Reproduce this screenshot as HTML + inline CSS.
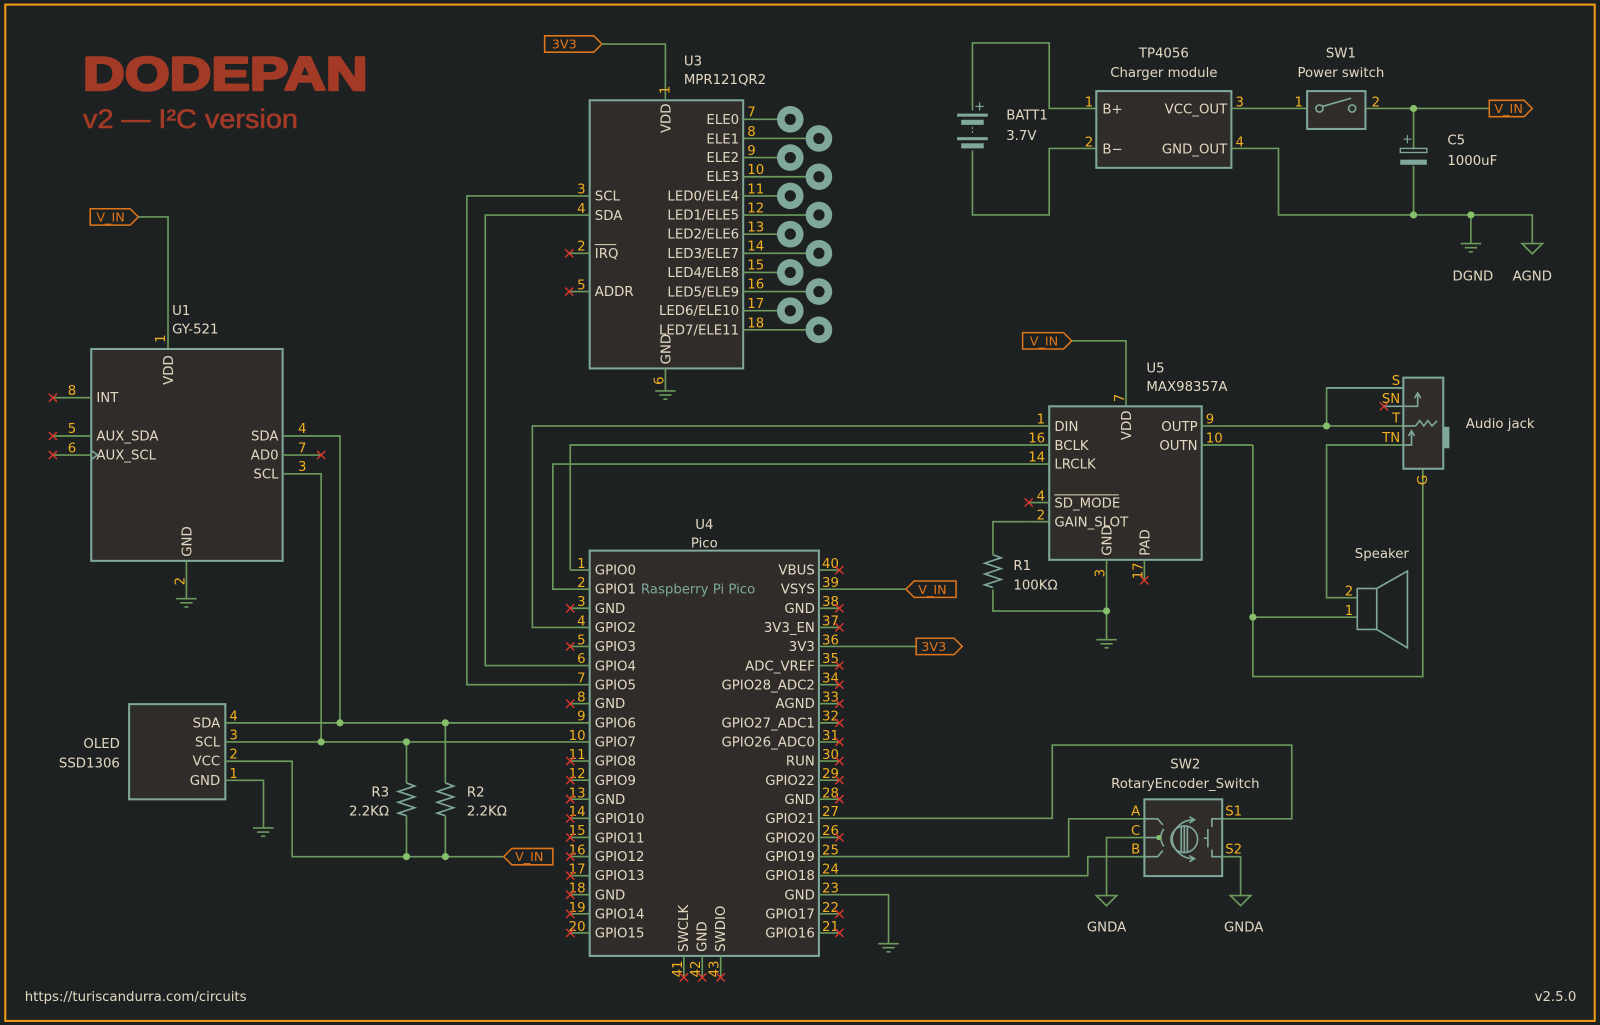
<!DOCTYPE html>
<html><head><meta charset="utf-8"><style>
html,body{margin:0;padding:0;background:#1e2122;}
svg{display:block}
.w{stroke:#6b9a5c;stroke-width:1.6;fill:none}
.b{stroke:#7fa89a;stroke-width:2;fill:#2f2c2a}
.o{stroke:#7fa89a;stroke-width:1.6;fill:none}
.t{font-family:"DejaVu Sans","Liberation Sans",sans-serif;font-size:13px;fill:#e2d8c2}
.n{font-family:"DejaVu Sans","Liberation Sans",sans-serif;font-size:13px;fill:#f2b01e}
.e{text-anchor:end}.m{text-anchor:middle}
.x{stroke:#d8372c;stroke-width:1.4;fill:none}
.d{fill:#86bf6a}
.l{stroke:#e0761a;stroke-width:1.5;fill:none}
.lt{font-family:"DejaVu Sans","Liberation Sans",sans-serif;font-size:12.5px;fill:#e0761a}
</style></head><body>
<svg width="1600" height="1025" viewBox="0 0 1563 1001.5" xmlns="http://www.w3.org/2000/svg">
<rect x="0" y="0" width="1563" height="1001.5" fill="#1e2122"/>
<rect x="5" y="4.5" width="1553" height="993" fill="none" stroke="#f29b13" stroke-width="2"/>
<text x="81" y="88" font-family="Liberation Sans,sans-serif" font-weight="bold" font-size="46" fill="#a33a26" stroke="#a33a26" stroke-width="2.5" stroke-linejoin="round" textLength="278" lengthAdjust="spacingAndGlyphs">DODEPAN</text>
<text x="81" y="125" font-family="Liberation Sans,sans-serif" font-size="26" fill="#a33a26" stroke="#a33a26" stroke-width="0.6" textLength="210" lengthAdjust="spacingAndGlyphs">v2 — I²C version</text>
<text x="24" y="978" class="t">https://turiscandurra.com/circuits</text>
<text x="1540" y="978" class="t e">v2.5.0</text>

<!-- ============ U3 MPR121 ============ -->
<path class="l" d="M532 35 H580 L588 43 L580 51 H532 Z"/><text x="539" y="47.5" class="lt">3V3</text>
<path class="w" d="M588 43 H650 V78"/>
<rect class="b" x="576" y="98" width="150" height="262"/>
<path class="w" d="M650 78 V98"/>
<text class="n" transform="translate(654,92) rotate(-90)">1</text>
<text class="t" transform="translate(655,130) rotate(-90)">VDD</text>
<text x="668" y="64" class="t">U3</text><text x="668" y="82" class="t">MPR121QR2</text>
<path class="w" d="M556 191.4 H576 M556 210.1 H576 M556 247.5 H576 M556 284.9 H576"/>
<text x="581" y="196" class="t">SCL</text><text x="581" y="215" class="t">SDA</text>
<text x="581" y="252" class="t">IRQ</text><path d="M581 239 H602" stroke="#e2d8c2" stroke-width="1"/>
<text x="581" y="289" class="t">ADDR</text>
<text x="572" y="189" class="n e">3</text><text x="572" y="208" class="n e">4</text><text x="572" y="245" class="n e">2</text><text x="572" y="283" class="n e">5</text>
<path class="x" d="M552 243.5 l8 8 m0 -8 l-8 8 M552 280.9 l8 8 m0 -8 l-8 8"/>
<path class="w" d="M650 360 V382"/>
<text class="t" transform="translate(655,356) rotate(-90)">GND</text>
<text class="n" transform="translate(648,376) rotate(-90)">6</text>
<path class="w" d="M640 382 H660 M644 386 H656 M648 390 H652"/>
<g class="w">
<path d="M726 116.6 H772 M726 135.3 H800 M726 154 H772 M726 172.7 H800 M726 191.4 H772 M726 210.1 H800 M726 228.8 H772 M726 247.5 H800 M726 266.2 H772 M726 284.9 H800 M726 303.6 H772 M726 322.3 H800"/>
</g>
<g fill="#7fa89a">
<circle cx="772" cy="116.6" r="13"/><circle cx="800" cy="135.3" r="13"/><circle cx="772" cy="154" r="13"/><circle cx="800" cy="172.7" r="13"/><circle cx="772" cy="191.4" r="13"/><circle cx="800" cy="210.1" r="13"/><circle cx="772" cy="228.8" r="13"/><circle cx="800" cy="247.5" r="13"/><circle cx="772" cy="266.2" r="13"/><circle cx="800" cy="284.9" r="13"/><circle cx="772" cy="303.6" r="13"/><circle cx="800" cy="322.3" r="13"/>
</g>
<g fill="#1e2122">
<circle cx="772" cy="116.6" r="5.5"/><circle cx="800" cy="135.3" r="5.5"/><circle cx="772" cy="154" r="5.5"/><circle cx="800" cy="172.7" r="5.5"/><circle cx="772" cy="191.4" r="5.5"/><circle cx="800" cy="210.1" r="5.5"/><circle cx="772" cy="228.8" r="5.5"/><circle cx="800" cy="247.5" r="5.5"/><circle cx="772" cy="266.2" r="5.5"/><circle cx="800" cy="284.9" r="5.5"/><circle cx="772" cy="303.6" r="5.5"/><circle cx="800" cy="322.3" r="5.5"/>
</g>
<g class="t e">
<text x="722" y="121">ELE0</text><text x="722" y="140">ELE1</text><text x="722" y="158.5">ELE2</text><text x="722" y="177">ELE3</text><text x="722" y="196">LED0/ELE4</text><text x="722" y="214.5">LED1/ELE5</text><text x="722" y="233">LED2/ELE6</text><text x="722" y="252">LED3/ELE7</text><text x="722" y="270.5">LED4/ELE8</text><text x="722" y="289.5">LED5/ELE9</text><text x="722" y="308">LED6/ELE10</text><text x="722" y="327">LED7/ELE11</text>
</g>
<g class="n">
<text x="730" y="114">7</text><text x="730" y="133">8</text><text x="730" y="151.5">9</text><text x="730" y="170">10</text><text x="730" y="189">11</text><text x="730" y="207.5">12</text><text x="730" y="226">13</text><text x="730" y="245">14</text><text x="730" y="263.5">15</text><text x="730" y="282">16</text><text x="730" y="301">17</text><text x="730" y="320">18</text>
</g>

<!-- ============ U1 GY-521 ============ -->
<path class="l" d="M88 204 H127 L135 212 L127 220 H88 Z"/><text x="94" y="216.5" class="lt">V_IN</text>
<path class="w" d="M135 212 H164 V341"/>
<rect class="b" x="89" y="341" width="187" height="207"/>
<text x="168" y="308" class="t">U1</text><text x="168" y="326" class="t">GY-521</text>
<text class="n" transform="translate(161,335) rotate(-90)">1</text>
<text class="t" transform="translate(169,376) rotate(-90)">VDD</text>
<path class="w" d="M51.5 388.6 H89 M51.5 426 H89 M51.5 444.6 H89"/>
<path class="x" d="M47.5 384.6 l8 8 m0 -8 l-8 8 M47.5 422 l8 8 m0 -8 l-8 8 M47.5 440.6 l8 8 m0 -8 l-8 8"/>
<text x="66" y="386" class="n">8</text><text x="66" y="423" class="n">5</text><text x="66" y="442" class="n">6</text>
<text x="94" y="393" class="t">INT</text><text x="94" y="430.5" class="t">AUX_SDA</text><text x="94" y="449" class="t">AUX_SCL</text>
<path class="o" d="M89 440 L95 444.6 L89 449" stroke-width="1.2"/>
<text x="272" y="430.5" class="t e">SDA</text><text x="272" y="449" class="t e">AD0</text><text x="272" y="467.5" class="t e">SCL</text>
<path class="w" d="M276 426 H332 V706.3 M276 444.6 H313.6 M276 463 H313.6 V724.9"/>
<path class="x" d="M309.6 440.6 l8 8 m0 -8 l-8 8"/>
<text x="291" y="423" class="n">4</text><text x="291" y="442" class="n">7</text><text x="291" y="460" class="n">3</text>
<text class="t" transform="translate(187,544) rotate(-90)">GND</text>
<path class="w" d="M182 548 V585"/>
<text class="n" transform="translate(180,572) rotate(-90)">2</text>
<path class="w" d="M172 585 H192 M176 589 H188 M180 593 H184"/>

<!-- ============ OLED ============ -->
<rect class="b" x="126" y="688" width="94" height="93"/>
<text x="117" y="731" class="t e">OLED</text><text x="117" y="750" class="t e">SSD1306</text>
<text x="215" y="711" class="t e">SDA</text><text x="215" y="729.5" class="t e">SCL</text><text x="215" y="748" class="t e">VCC</text><text x="215" y="767" class="t e">GND</text>
<text x="224" y="704" class="n">4</text><text x="224" y="722.5" class="n">3</text><text x="224" y="741" class="n">2</text><text x="224" y="760" class="n">1</text>
<path class="w" d="M220 706.3 H557 M220 724.9 H557 M220 743.8 H285.3 V837 H492 M220 762.4 H257.3 V809"/>
<path class="w" d="M247 809 H267 M251 813 H263 M255 817 H259"/>
<path class="w" d="M397 724.9 V765 M435 706.3 V765 M397 797 V837 M435 797 V837"/>
<path class="o" d="M397 765 l8 3 l-16 5.3 l16 5.3 l-16 5.3 l16 5.3 l-16 5.3 l8 2.5"/>
<path class="o" d="M435 765 l8 3 l-16 5.3 l16 5.3 l-16 5.3 l16 5.3 l-16 5.3 l8 2.5"/>
<text x="380" y="778" class="t e">R3</text><text x="380" y="797" class="t e">2.2KΩ</text>
<text x="456" y="778" class="t">R2</text><text x="456" y="797" class="t">2.2KΩ</text>
<circle class="d" cx="332" cy="706.3" r="3.5"/><circle class="d" cx="435" cy="706.3" r="3.5"/>
<circle class="d" cx="313.6" cy="724.9" r="3.5"/><circle class="d" cx="397" cy="724.9" r="3.5"/>
<circle class="d" cx="397" cy="837" r="3.5"/><circle class="d" cx="435" cy="837" r="3.5"/>
<path class="l" d="M492 837 L500 829 H540 V845 H500 Z"/><text x="503" y="841.5" class="lt">V_IN</text>

<!-- ============ U4 Pico ============ -->
<text x="688" y="517" class="t m">U4</text><text x="688" y="535" class="t m">Pico</text>
<rect class="b" x="576" y="538" width="224" height="396"/>
<text x="626" y="580" class="t" style="fill:#7fa89a">Raspberry Pi Pico</text>
<g class="w">
<path d="M557 557 H576 M557 575.7 H576 M557 594.3 H576 M557 613 H576 M557 631.6 H576 M557 650.3 H576 M557 669 H576 M557 687.6 H576 M557 706.3 H576 M557 724.9 H576 M557 743.6 H576 M557 762.3 H576 M557 780.9 H576 M557 799.6 H576 M557 818.2 H576 M557 836.9 H576 M557 855.6 H576 M557 874.2 H576 M557 892.9 H576 M557 911.5 H576"/>
<path d="M800 557 H820 M800 575.7 H820 M800 594.3 H820 M800 613 H820 M800 631.6 H820 M800 650.3 H820 M800 669 H820 M800 687.6 H820 M800 706.3 H820 M800 724.9 H820 M800 743.6 H820 M800 762.3 H820 M800 780.9 H820 M800 799.6 H820 M800 818.2 H820 M800 836.9 H820 M800 855.6 H820 M800 874.2 H820 M800 892.9 H820 M800 911.5 H820"/>
<path d="M668 934 V955 M686 934 V955 M704 934 V955"/>
</g>
<g class="t">
<text x="581" y="561.5">GPIO0</text><text x="581" y="580">GPIO1</text><text x="581" y="599">GND</text><text x="581" y="617.5">GPIO2</text><text x="581" y="636">GPIO3</text><text x="581" y="655">GPIO4</text><text x="581" y="673.5">GPIO5</text><text x="581" y="692">GND</text><text x="581" y="711">GPIO6</text><text x="581" y="729.5">GPIO7</text><text x="581" y="748">GPIO8</text><text x="581" y="767">GPIO9</text><text x="581" y="785.5">GND</text><text x="581" y="804">GPIO10</text><text x="581" y="823">GPIO11</text><text x="581" y="841.5">GPIO12</text><text x="581" y="860">GPIO13</text><text x="581" y="879">GND</text><text x="581" y="897.5">GPIO14</text><text x="581" y="916">GPIO15</text>
</g>
<g class="t e">
<text x="796" y="561.5">VBUS</text><text x="796" y="580">VSYS</text><text x="796" y="599">GND</text><text x="796" y="617.5">3V3_EN</text><text x="796" y="636">3V3</text><text x="796" y="655">ADC_VREF</text><text x="796" y="673.5">GPIO28_ADC2</text><text x="796" y="692">AGND</text><text x="796" y="711">GPIO27_ADC1</text><text x="796" y="729.5">GPIO26_ADC0</text><text x="796" y="748">RUN</text><text x="796" y="767">GPIO22</text><text x="796" y="785.5">GND</text><text x="796" y="804">GPIO21</text><text x="796" y="823">GPIO20</text><text x="796" y="841.5">GPIO19</text><text x="796" y="860">GPIO18</text><text x="796" y="879">GND</text><text x="796" y="897.5">GPIO17</text><text x="796" y="916">GPIO16</text>
</g>
<g class="n e">
<text x="572" y="555">1</text><text x="572" y="573.5">2</text><text x="572" y="592">3</text><text x="572" y="611">4</text><text x="572" y="629.5">5</text><text x="572" y="648">6</text><text x="572" y="667">7</text><text x="572" y="685.5">8</text><text x="572" y="704">9</text><text x="572" y="723">10</text><text x="572" y="741.5">11</text><text x="572" y="760">12</text><text x="572" y="779">13</text><text x="572" y="797.5">14</text><text x="572" y="816">15</text><text x="572" y="835">16</text><text x="572" y="853.5">17</text><text x="572" y="872">18</text><text x="572" y="891">19</text><text x="572" y="909.5">20</text>
</g>
<g class="n">
<text x="803" y="555">40</text><text x="803" y="573.5">39</text><text x="803" y="592">38</text><text x="803" y="611">37</text><text x="803" y="629.5">36</text><text x="803" y="648">35</text><text x="803" y="667">34</text><text x="803" y="685.5">33</text><text x="803" y="704">32</text><text x="803" y="723">31</text><text x="803" y="741.5">30</text><text x="803" y="760">29</text><text x="803" y="779">28</text><text x="803" y="797.5">27</text><text x="803" y="816">26</text><text x="803" y="835">25</text><text x="803" y="853.5">24</text><text x="803" y="872">23</text><text x="803" y="891">22</text><text x="803" y="909.5">21</text>
</g>
<text class="t" transform="translate(672,930) rotate(-90)">SWCLK</text>
<text class="t" transform="translate(690,930) rotate(-90)">GND</text>
<text class="t" transform="translate(708,930) rotate(-90)">SWDIO</text>
<text class="n" transform="translate(666,955) rotate(-90)">41</text>
<text class="n" transform="translate(684,955) rotate(-90)">42</text>
<text class="n" transform="translate(702,955) rotate(-90)">43</text>
<path class="x" d="
M553 590.3 l8 8 m0 -8 l-8 8
M553 627.6 l8 8 m0 -8 l-8 8
M553 683.6 l8 8 m0 -8 l-8 8
M553 739.6 l8 8 m0 -8 l-8 8
M553 758.3 l8 8 m0 -8 l-8 8
M553 776.9 l8 8 m0 -8 l-8 8
M553 795.6 l8 8 m0 -8 l-8 8
M553 814.2 l8 8 m0 -8 l-8 8
M553 832.9 l8 8 m0 -8 l-8 8
M553 851.6 l8 8 m0 -8 l-8 8
M553 870.2 l8 8 m0 -8 l-8 8
M553 888.9 l8 8 m0 -8 l-8 8
M553 907.5 l8 8 m0 -8 l-8 8
M816 553 l8 8 m0 -8 l-8 8
M816 590.3 l8 8 m0 -8 l-8 8
M816 609 l8 8 m0 -8 l-8 8
M816 646.3 l8 8 m0 -8 l-8 8
M816 665 l8 8 m0 -8 l-8 8
M816 683.6 l8 8 m0 -8 l-8 8
M816 702.3 l8 8 m0 -8 l-8 8
M816 720.9 l8 8 m0 -8 l-8 8
M816 739.6 l8 8 m0 -8 l-8 8
M816 758.3 l8 8 m0 -8 l-8 8
M816 776.9 l8 8 m0 -8 l-8 8
M816 814.2 l8 8 m0 -8 l-8 8
M816 888.9 l8 8 m0 -8 l-8 8
M816 907.5 l8 8 m0 -8 l-8 8
M664 951 l8 8 m0 -8 l-8 8
M682 951 l8 8 m0 -8 l-8 8
M700 951 l8 8 m0 -8 l-8 8"/>
<!-- Pico wiring -->
<path class="w" d="M557 557 V434.8 H1005 M557 575.7 H540 V453.4 H1005 M557 613 H520 V416.2 H1005 M557 650.3 H474 V210.1 H556 M557 669 H456 V191.4 H556"/>
<path class="w" d="M820 575.7 H885 M820 631.6 H895"/>
<path class="l" d="M885 575.7 L893 567.7 H934 V583.7 H893 Z"/><text x="897" y="580.2" class="lt">V_IN</text>
<path class="l" d="M895 623.6 H932 L940 631.6 L932 639.6 H895 Z"/><text x="900" y="636.1" class="lt">3V3</text>
<path class="w" d="M820 874.2 H868 V922"/>
<path class="w" d="M858 922 H878 M862 926 H874 M866 930 H870"/>
<path class="w" d="M820 799.6 H1028 V728 H1262 V800 H1194"/>
<path class="w" d="M820 836.9 H1044 V800 H1118 M820 855.6 H1062.7 V837 H1118"/>

<!-- ============ SW2 ============ -->
<text x="1158" y="751" class="t m">SW2</text><text x="1158" y="770" class="t m">RotaryEncoder_Switch</text>
<rect class="b" x="1118" y="781" width="76" height="75"/>
<text x="1114" y="797" class="n e">A</text><text x="1114" y="816" class="n e">C</text><text x="1114" y="834" class="n e">B</text>
<text x="1197" y="797" class="n">S1</text><text x="1197" y="834" class="n">S2</text>
<path class="w" d="M1118 818.4 H1081 V875 M1194 837 H1212 V875"/>
<path class="w" d="M1071 875 H1091 L1081 885 Z M1202 875 H1222 L1212 885 Z"/>
<text x="1081" y="910" class="t m">GNDA</text><text x="1215" y="910" class="t m">GNDA</text>
<g class="o" stroke-width="1.3">
<circle cx="1157" cy="820" r="13"/>
<path d="M1154 808 V832 M1157 807 V833 M1160 808 V832"/>
<path d="M1167 801 A21 21 0 0 0 1145 820 A21 21 0 0 0 1167 839 M1162 798 L1167 801 L1162 804 M1162 836 L1167 839 L1162 842"/>
<path d="M1118 800 H1131 L1136 806 M1118 837 H1131 L1136 831 M1118 818.4 H1132 M1137 810 Q1131 818 1137 827"/>
<path d="M1194 800 H1184 V808 M1194 837 H1184 V830 M1180 810 V828 M1180 819 H1176"/>
</g>
<circle class="d" cx="1132" cy="818.4" r="2.5"/>

<!-- ============ U5 MAX98357A ============ -->
<path class="l" d="M999 325 H1039 L1047 333 L1039 341 H999 Z"/><text x="1006" y="337.5" class="lt">V_IN</text>
<path class="w" d="M1047 333 H1100 V397"/>
<text x="1120" y="364" class="t">U5</text><text x="1120" y="382" class="t">MAX98357A</text>
<rect class="b" x="1025" y="397" width="149" height="150"/>
<text class="n" transform="translate(1098,393) rotate(-90)">7</text>
<text class="t" transform="translate(1105,430) rotate(-90)">VDD</text>
<path class="w" d="M1005 416.2 H1025 M1005 434.8 H1025 M1005 453.4 H1025 M1005 491 H1025 M1005 509.7 H1025 M1174 416.2 H1194 M1174 434.8 H1194"/>
<text x="1030" y="421" class="t">DIN</text><text x="1030" y="439.5" class="t">BCLK</text><text x="1030" y="458" class="t">LRCLK</text>
<text x="1030" y="496" class="t">SD_MODE</text><path d="M1030 483.5 H1093" stroke="#e2d8c2" stroke-width="1"/>
<text x="1030" y="514.5" class="t">GAIN_SLOT</text>
<text x="1170" y="421" class="t e">OUTP</text><text x="1170" y="439.5" class="t e">OUTN</text>
<text x="1021" y="414" class="n e">1</text><text x="1021" y="432.5" class="n e">16</text><text x="1021" y="451" class="n e">14</text><text x="1021" y="489" class="n e">4</text><text x="1021" y="507.5" class="n e">2</text>
<text x="1178" y="414" class="n">9</text><text x="1178" y="432.5" class="n">10</text>
<path class="x" d="M1001 487 l8 8 m0 -8 l-8 8"/>
<text class="t" transform="translate(1086,543) rotate(-90)">GND</text>
<text class="t" transform="translate(1123,543) rotate(-90)">PAD</text>
<path class="w" d="M1081 547 V625 M1118 547 V567"/>
<text class="n" transform="translate(1079,564) rotate(-90)">3</text>
<text class="n" transform="translate(1116,566) rotate(-90)">17</text>
<path class="x" d="M1114 563 l8 8 m0 -8 l-8 8"/>
<path class="w" d="M1071 625 H1091 M1075 629 H1087 M1079 633 H1083"/>
<path class="w" d="M1005 509.7 H970 V542 M970 576 V597 H1081"/>
<path class="o" d="M970 542 l8 3 l-16 5.3 l16 5.3 l-16 5.3 l16 5.3 l-16 5.3 l8 2.5"/>
<circle class="d" cx="1081" cy="597" r="3.5"/>
<text x="990" y="557" class="t">R1</text><text x="990" y="576" class="t">100KΩ</text>

<!-- ============ Audio jack & speaker ============ -->
<path class="w" d="M1194 416.2 H1380 M1296 416.2 V379 H1385 V386 M1224 434.8 H1194 M1224 434.8 V661 H1390 V458 M1224 603 H1326 M1375 434.8 H1296 V584 H1326"/>
<circle class="d" cx="1296" cy="416.2" r="3.5"/>
<circle class="d" cx="1224" cy="603" r="3.5"/>
<rect class="b" x="1371" y="369" width="39" height="89"/>
<rect x="1410" y="417" width="6" height="21" fill="#7fa89a"/>
<g class="o" stroke-width="1.3">
<path d="M1352 397 H1385 V384 M1382 389 L1385 384 L1388 389"/>
<path d="M1371 416.2 H1383 L1387 411 L1391 416.2 L1395 411 L1399 416.2 L1404 411"/>
<path d="M1371 434.8 H1379 V421 M1376 426 L1379 421 L1382 426"/>
<path d="M1296 379 H1371"/>
</g>
<path class="x" d="M1348 393 l8 8 m0 -8 l-8 8"/>
<text x="1368" y="376" class="n e">S</text><text x="1368" y="394" class="n e">SN</text><text x="1368" y="413" class="n e">T</text><text x="1368" y="432" class="n e">TN</text>
<text class="n" transform="translate(1394,474) rotate(-90)">G</text>
<text x="1432" y="418" class="t">Audio jack</text>
<text x="1350" y="545" class="t m">Speaker</text>
<rect class="o" x="1326" y="575" width="19" height="40" stroke-width="1.6"/>
<path class="o" d="M1345 575 L1375 558 V633 L1345 615" stroke-width="1.6"/>
<text x="1322" y="582" class="n e">2</text><text x="1322" y="601" class="n e">1</text>

<!-- ============ Power section ============ -->
<path class="w" d="M950 108 V42 H1025 V106 H1071 M1071 145 H1025 V210 H950 V147"/>
<g fill="#7fa89a">
<rect x="935" y="111" width="30" height="3"/><rect x="939" y="117" width="22" height="5"/>
<rect x="935" y="134" width="30" height="3"/><rect x="939" y="140" width="22" height="5"/>
</g>
<path d="M950 124 V132" stroke="#7fa89a" stroke-width="1" stroke-dasharray="2 2"/>
<path d="M953 104 H961 M957 100 V108" stroke="#7fa89a" stroke-width="1.2"/>
<text x="983" y="117" class="t">BATT1</text><text x="983" y="137" class="t">3.7V</text>
<text x="1137" y="56" class="t m">TP4056</text><text x="1137" y="75" class="t m">Charger module</text>
<rect class="b" x="1071" y="89" width="132" height="75"/>
<text x="1077" y="111" class="t">B+</text><text x="1077" y="150" class="t">B−</text>
<text x="1199" y="111" class="t e">VCC_OUT</text><text x="1199" y="150" class="t e">GND_OUT</text>
<text x="1068" y="104" class="n e">1</text><text x="1068" y="143" class="n e">2</text>
<text x="1207" y="104" class="n">3</text><text x="1207" y="143" class="n">4</text>
<text x="1310" y="56" class="t m">SW1</text><text x="1310" y="75" class="t m">Power switch</text>
<path class="w" d="M1203 106 H1277 M1334 106 H1455 M1203 145 H1249 V210 H1497 V238 M1381 106 V146 M1381 162 V210 M1437 210 V238"/>
<rect class="b" x="1277" y="89" width="57" height="37"/>
<g class="o" stroke-width="1.3"><circle cx="1289" cy="106" r="3.5"/><circle cx="1321" cy="106" r="3.5"/><path d="M1292 104 L1320 96"/></g>
<text x="1273" y="104" class="n e">1</text><text x="1340" y="104" class="n">2</text>
<circle class="d" cx="1381" cy="106" r="3.5"/>
<path class="l" d="M1455 98 H1489 L1497 106 L1489 114 H1455 Z"/><text x="1460" y="110.5" class="lt">V_IN</text>
<rect x="1368" y="145" width="26" height="4" fill="none" stroke="#7fa89a" stroke-width="1.3"/>
<rect x="1368" y="156" width="26" height="5" fill="#7fa89a"/>
<path d="M1371 136 H1379 M1375 132 V140" stroke="#7fa89a" stroke-width="1.2"/>
<text x="1414" y="141" class="t">C5</text><text x="1414" y="161" class="t">1000uF</text>
<circle class="d" cx="1381" cy="210" r="3.5"/><circle class="d" cx="1437" cy="210" r="3.5"/>
<path class="w" d="M1427 238 H1447 M1431 242 H1443 M1435 246 H1439"/>
<path class="w" d="M1487 238 H1507 L1497 248 Z"/>
<text x="1439" y="274" class="t m">DGND</text><text x="1497" y="274" class="t m">AGND</text>
</svg>
</body></html>
